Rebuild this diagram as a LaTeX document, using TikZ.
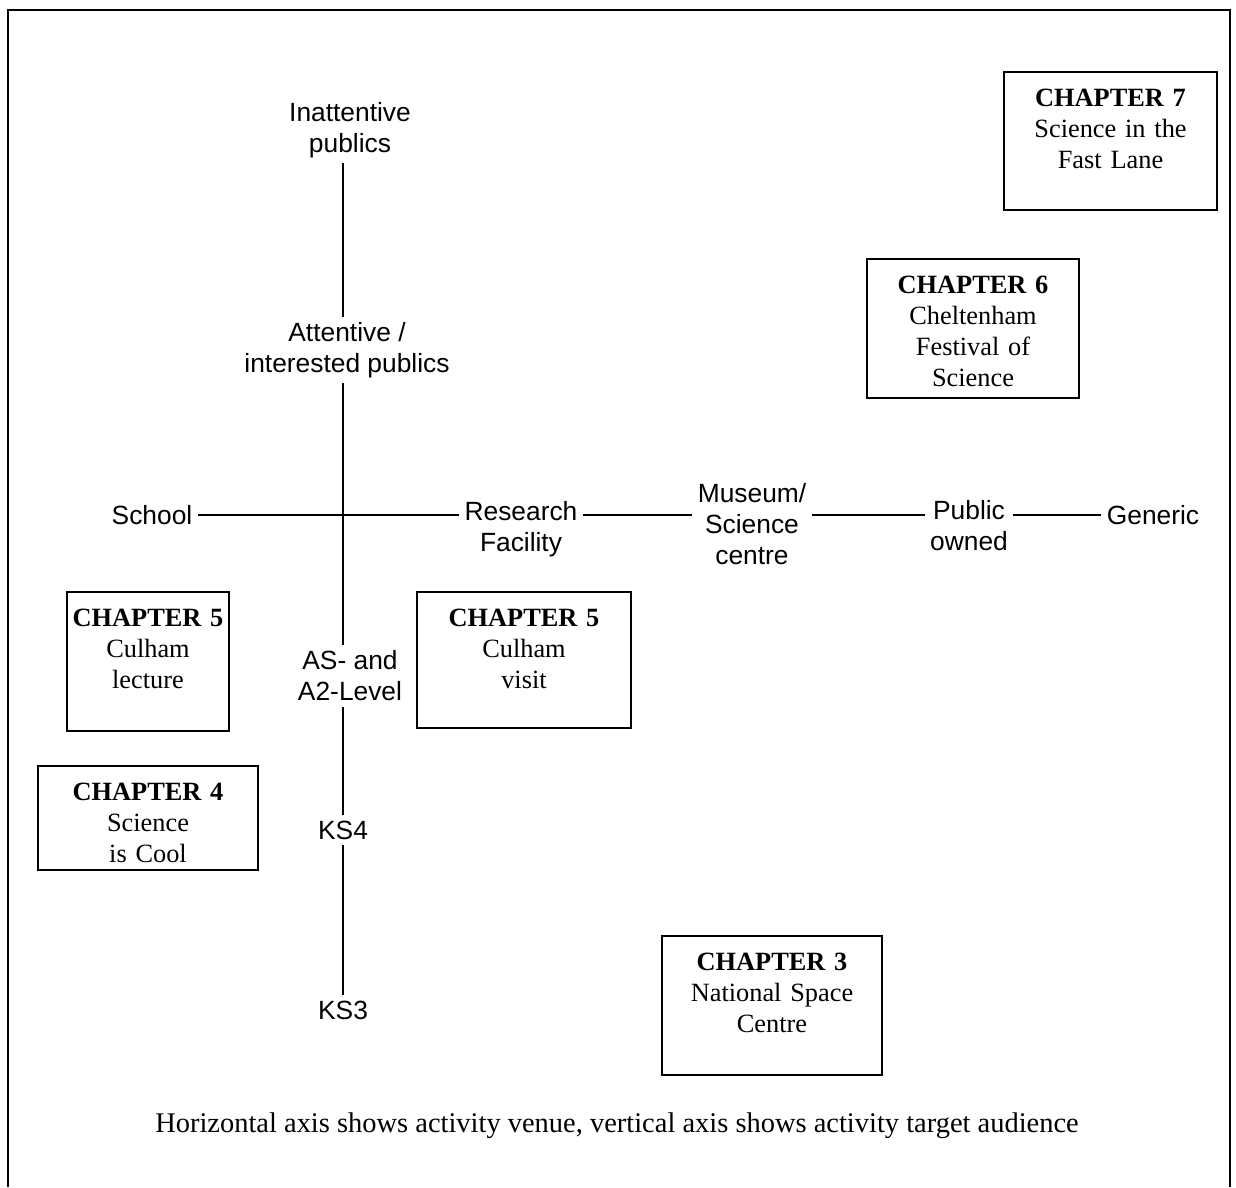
\documentclass[tikz,border=0pt]{standalone}
\usepackage{fontspec}
\setmainfont{Liberation Serif}
\newfontfamily\axisfont{Liberation Sans}
\usetikzlibrary{positioning,calc}

\begin{document}
\begin{tikzpicture}[
  x=0.02cm, y=-0.02cm,
  every node/.style={font=\fontsize{15}{17.6}\selectfont},
  axislabel/.style={font=\axisfont\fontsize{15}{17.6}\selectfont,
                    align=center, inner sep=3pt},
  chapbox/.style={draw, line width=1.1pt, align=center, anchor=north,
                  inner xsep=0pt, inner ysep=0pt, text height=0.70cm,
                  text width=#1},
  axisline/.style={line width=0.8pt},
  frameline/.style={line width=1.2pt}]

\useasboundingbox (0,0) rectangle (1236,1187);
\draw[frameline] (8,1187) -- (8,10) -- (1230,10) -- (1230,1187);

%% vertical axis: target audience
\node[axislabel] (inatt)  at (350,130)  {Inattentive\\publics};
\node[axislabel] (attent) at (347,350)  {Attentive /\\interested publics};
\node[axislabel] (aslev)  at (350,676)  {AS- and\\A2-Level};
\node[axislabel] (ks4)    at (343,830)  {KS4};
\node[axislabel] (ks3)    at (343,1010) {KS3};

%% horizontal axis: activity venue
\node[axislabel] (school)   at (152,515)  {School};
\node[axislabel] (research) at (521,529)  {Research\\Facility};
\node[axislabel] (museum)   at (752,524)  {Museum/\\Science\\centre};
\node[axislabel] (public)   at (969,526)  {Public\\owned};
\node[axislabel] (generic)  at (1153,515) {Generic};

\draw[axisline] (inatt.south -| ks3) -- (attent.north -| ks3);
\draw[axisline] (attent.south -| ks3) -- (aslev.north -| ks3);
\draw[axisline] (aslev.south -| ks3) -- (ks4);
\draw[axisline] (ks4) -- (ks3);

\draw[axisline] (school) -- (school -| research.west);
\draw[axisline] (research.east |- school) -- (museum.west |- school);
\draw[axisline] (museum.east |- school) -- (public.west |- school);
\draw[axisline] (public.east |- school) -- (generic);

%% chapters
\node[chapbox=4.26cm, text depth=2.06cm] (ch7) at (1110.5,71)
  {\textbf{CHAPTER 7}\\Science in the\\Fast Lane};
\node[chapbox=4.24cm, text depth=2.08cm] (ch6) at (973,258)
  {\textbf{CHAPTER 6}\\Cheltenham\\Festival of\\Science};
\node[chapbox=3.24cm, text depth=2.08cm] (ch5a) at (148,591)
  {\textbf{CHAPTER 5}\\Culham\\lecture};
\node[chapbox=4.28cm, text depth=2.02cm] (ch5b) at (524,591)
  {\textbf{CHAPTER 5}\\Culham\\visit};
\node[chapbox=4.40cm, text depth=1.38cm] (ch4) at (148,765)
  {\textbf{CHAPTER 4}\\Science\\is Cool};
\node[chapbox=4.40cm, text depth=2.08cm] (ch3) at (772,935)
  {\textbf{CHAPTER 3}\\National Space\\Centre};

\node[font=\fontsize{16.2}{19}\selectfont] (caption) at (617,1126)
  {Horizontal axis shows activity venue, vertical axis shows activity target audience};
\end{tikzpicture}
\end{document}
